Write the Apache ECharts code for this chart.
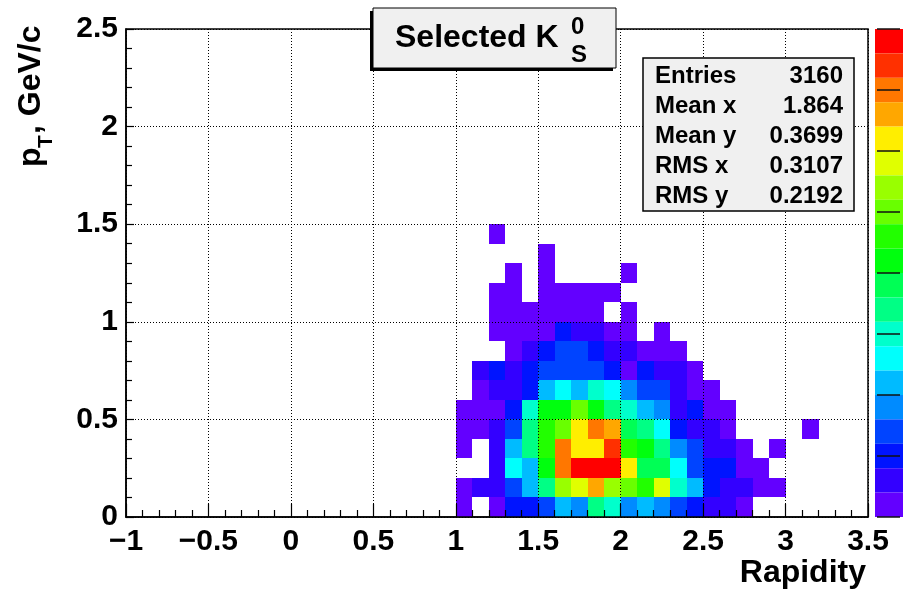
<!DOCTYPE html>
<html>
<head>
<meta charset="utf-8">
<script src="https://cdn.jsdelivr.net/npm/echarts@6/dist/echarts.min.js"></script>
<style>
  html, body { margin: 0; padding: 0; background: #fff; }
  #chart { width: 905px; height: 590px; }
</style>
</head>
<body>
<div id="chart"></div>
<script>
// ---- data (colour contour level 0..19 of each 0.1 x 0.1 bin; null = empty) ----
const BIN_X = 0.1;          // rapidity bin width
const BIN_Y = 0.1;          // pT bin height
const X_FIRST = 1.0;        // rapidity of the first column in each row array
// columns: 1.0 1.1 1.2 1.3 1.4 1.5 1.6 1.7 1.8 1.9 2.0 2.1 2.2 2.3 2.4 2.5 2.6 2.7 2.8 2.9 3.0 3.1
const pt00 = [0, null, 0, 2, 2, 3, 5, 4, 8, 7, 4, 5, 4, 3, 2, 1, 1, 0];
const pt01 = [0, 1, 1, 3, 5, 8, 13, 14, 16, 13, 12, 11, 14, 7, 5, 2, 1, 1, 0, 0];
const pt02 = [null, null, 1, 6, 5, 10, 17, 19, 19, 19, 15, 9, 9, 6, 3, 2, 2, 0, 0];
const pt03 = [0, null, 1, 5, 8, 11, 17, 15, 15, 18, 11, 10, 8, 4, 3, 1, 1, 0, null, 0];
const pt04 = [0, 0, 1, 3, 8, 11, 12, 15, 17, 16, 9, 8, 6, 2, 1, 1, 0, null, null, null, null, 0];
const pt05 = [0, 0, 0, 2, 7, 10, 10, 12, 10, 8, 7, 5, 4, 1, 2, 0, 0];
const pt06 = [null, 0, 1, 1, 2, 5, 6, 5, 7, 6, 4, 3, 3, 1, 0, 0];
const pt07 = [null, 1, 2, 1, 2, 3, 3, 3, 3, 2, 0, 2, 1, 1, 0];
const pt08 = [null, null, null, 0, 1, 2, 3, 3, 2, 1, 1, 0, 0, 0];
const pt09 = [null, null, 0, 0, 0, 0, 2, 1, 1, 0, 0, null, 0];
const pt10 = [null, null, 0, 0, 0, 0, 0, 0, 0, null, 0];
const pt11 = [null, null, 0, 0, null, 0, 0, 0, 0, 0];
const pt12 = [null, null, null, 0, null, 0, null, null, null, null, 0];
const pt13 = [null, null, null, null, null, 0];
const pt14 = [null, null, 0];
const ptRows = [pt00, pt01, pt02, pt03, pt04, pt05, pt06, pt07, pt08, pt09, pt10, pt11, pt12, pt13, pt14];

const statNames = ['Entries', 'Mean x', 'Mean y', 'RMS x', 'RMS y'];
const statValues = ['3160', '1.864', '0.3699', '0.3107', '0.2192'];

// ROOT "pretty" palette sampled at 20 contours (bottom -> top)
const paletteColors = ['#6300ff', '#3300ff', '#0014ff', '#0044ff', '#008bff', '#00bbff', '#00fffc',
  '#00ffcc', '#00ff85', '#00ff55', '#00ff0e', '#22ff00', '#69ff00', '#99ff00', '#e0ff00',
  '#ffee00', '#ffa700', '#ff7700', '#ff3000', '#ff0000'];

const cells = [];
ptRows.forEach((row, r) => {
  row.forEach((lvl, c) => {
    if (lvl !== null) cells.push([+(X_FIRST + c * BIN_X).toFixed(2), +(r * BIN_Y).toFixed(2), lvl]);
  });
});

const FONT = 'Liberation Sans, Arial, Helvetica, sans-serif';
const fmtMinus = v => String(+v.toFixed(2)).replace('-', '\u2212');

const chart = echarts.init(document.getElementById('chart'), null, { renderer: 'canvas' });
chart.setOption({
  animation: false,
  backgroundColor: '#fff',
  grid: [
    { left: 126, top: 29, width: 742, height: 488, show: true, borderColor: '#000', borderWidth: 1.5, backgroundColor: 'transparent' },
    { left: 877, top: 29, width: 23, height: 488, show: false }
  ],
  xAxis: [{
    type: 'value', gridIndex: 0, min: -1, max: 3.5, interval: 0.5, z: 4,
    axisLine: { show: true, onZero: false, lineStyle: { color: '#000', width: 1.5 } },
    axisTick: { show: true, inside: true, length: 13, lineStyle: { color: '#000', width: 1.2 } },
    minorTick: { show: true, splitNumber: 5, length: 7, lineStyle: { color: '#000', width: 1.2 } },
    splitLine: { show: true, lineStyle: { color: '#000', width: 1, type: [1, 2] } },
    axisLabel: { show: true, margin: 10, color: '#000', fontFamily: FONT, fontWeight: 'bold', fontSize: 30,
      showMinLabel: true, showMaxLabel: true, formatter: fmtMinus }
  }, {
    type: 'value', gridIndex: 1, show: false, min: 0, max: 1
  }],
  yAxis: [{
    type: 'value', gridIndex: 0, min: 0, max: 2.5, interval: 0.5, z: 4,
    axisLine: { show: true, onZero: false, lineStyle: { color: '#000', width: 1.5 } },
    axisTick: { show: true, inside: true, length: 8, lineStyle: { color: '#000', width: 1.2 } },
    minorTick: { show: true, splitNumber: 5, length: 6, lineStyle: { color: '#000', width: 1.2 } },
    splitLine: { show: true, lineStyle: { color: '#000', width: 1, type: [1, 2] } },
    axisLabel: { show: true, margin: 8, color: '#000', fontFamily: FONT, fontWeight: 'bold', fontSize: 30,
      showMinLabel: true, showMaxLabel: true, formatter: fmtMinus }
  }, {
    type: 'value', gridIndex: 1, position: 'left', min: 0, max: 8, interval: 1, z: 10,
    axisLine: { show: false },
    axisTick: { show: false },
    axisLabel: { show: false },
    splitLine: { show: true, lineStyle: { color: '#111', width: 1.5, type: 'solid' } }
  }],
  visualMap: {
    type: 'piecewise', dimension: 2, seriesIndex: 0,
    pieces: paletteColors.map((c, i) => ({ value: i, color: c })),
    orient: 'vertical', left: 875, top: 29, padding: 0,
    itemWidth: 28, itemHeight: 24.4, itemGap: 0, itemSymbol: 'rect',
    showLabel: false, selectedMode: false, hoverLink: false, z: 2
  },
  series: [{
    type: 'custom',
    coordinateSystem: 'cartesian2d',
    xAxisIndex: 0, yAxisIndex: 0,
    data: cells,
    encode: { x: 0, y: 1 },
    z: 2,
    renderItem: (params, api) => {
      const x0 = api.value(0), y0 = api.value(1);
      const pTL = api.coord([x0, y0 + BIN_Y]);
      const pBR = api.coord([x0 + BIN_X, y0]);
      const x = Math.round(pTL[0]), y = Math.round(pTL[1]);
      return {
        type: 'rect',
        shape: { x: x, y: y, width: Math.round(pBR[0]) - x, height: Math.round(pBR[1]) - y },
        style: { fill: api.visual('color') }
      };
    }
  }],
  graphic: [
    // title pave with shadow
    { type: 'rect', z: 20, shape: { x: 370, y: 11, width: 243, height: 60 }, style: { fill: '#000' } },
    { type: 'rect', z: 21, shape: { x: 373, y: 8, width: 243, height: 60 }, style: { fill: '#f0f0f0', stroke: '#000', lineWidth: 1 } },
    { type: 'text', z: 22, x: 395, y: 38, style: { text: 'Selected K', fill: '#000', font: 'bold 32px ' + FONT, textAlign: 'left', textVerticalAlign: 'middle' } },
    { type: 'text', z: 22, x: 571, y: 27, style: { text: '0', fill: '#000', font: 'bold 24px ' + FONT, textAlign: 'left', textVerticalAlign: 'middle' } },
    { type: 'text', z: 22, x: 571, y: 55, style: { text: 'S', fill: '#000', font: 'bold 24px ' + FONT, textAlign: 'left', textVerticalAlign: 'middle' } },
    // stats box
    { type: 'rect', z: 20, shape: { x: 643, y: 58, width: 211, height: 153 }, style: { fill: '#f0f0f0', stroke: '#000', lineWidth: 1.5 } },
    ...statNames.map((n, i) => ({ type: 'text', z: 22, x: 655, y: 76 + i * 30, style: { text: n, fill: '#000', font: 'bold 24px ' + FONT, textAlign: 'left', textVerticalAlign: 'middle' } })),
    ...statValues.map((v, i) => ({ type: 'text', z: 22, x: 843, y: 76 + i * 30, style: { text: v, fill: '#000', font: 'bold 24px ' + FONT, textAlign: 'right', textVerticalAlign: 'middle' } })),
    // axis titles
    { type: 'text', z: 22, x: 866, y: 573, style: { text: 'Rapidity', fill: '#000', font: 'bold 32px ' + FONT, textAlign: 'right', textVerticalAlign: 'middle' } },
    { type: 'group', z: 22, x: 47, y: 167, rotation: Math.PI / 2, children: [
      { type: 'text', x: 0, y: 0, style: { text: 'p', fill: '#000', font: 'bold 32px ' + FONT, textAlign: 'left', textVerticalAlign: 'bottom' } },
      { type: 'text', x: 19, y: 10, style: { text: 'T', fill: '#000', font: 'bold 21px ' + FONT, textAlign: 'left', textVerticalAlign: 'bottom' } },
      { type: 'text', x: 33, y: 0, style: { text: ', GeV/c', fill: '#000', font: 'bold 32px ' + FONT, textAlign: 'left', textVerticalAlign: 'bottom' } }
    ] }
  ]
});
</script>
</body>
</html>
